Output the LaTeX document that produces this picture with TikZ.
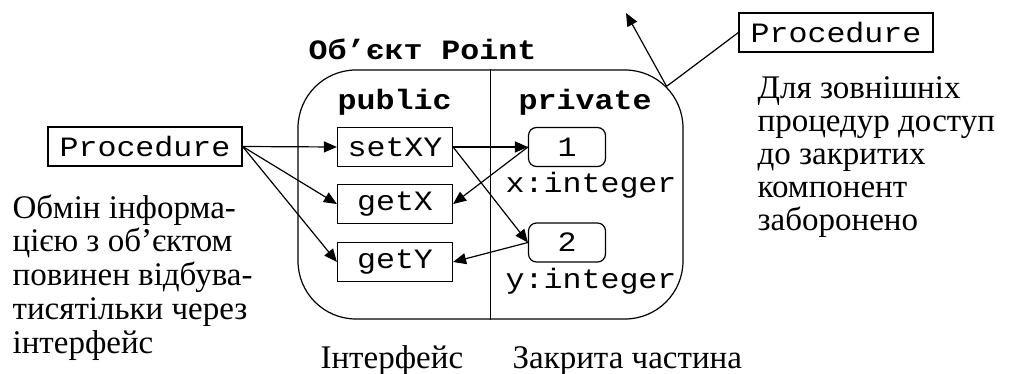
\documentclass[tikz,border=0pt]{standalone}
\usepackage{fontspec}
\setmainfont{Liberation Serif}
\newfontfamily\monof[FakeStretch=1.13]{Liberation Mono}
\newfontfamily\textf{Liberation Serif}
\usetikzlibrary{arrows.meta,calc}
\begin{document}
\begin{tikzpicture}[x=1pt,y=-1pt,line width=1.2pt,
  mono/.style={font=\monof\fontsize{28}{30}\selectfont},
  monob/.style={font=\monof\bfseries\fontsize{28}{30}\selectfont},
  serif/.style={font=\textf\fontsize{33}{34}\selectfont},
  procbox/.style={draw,mono,inner sep=0pt,minimum width=194pt,minimum height=39pt},
  methbox/.style={draw,mono,inner sep=0pt,minimum width=115pt,minimum height=39pt},
  fieldbox/.style={draw,mono,inner sep=0pt,rounded corners=8pt,minimum width=77pt,minimum height=39pt},
  arr/.style={-{Triangle[length=13pt,width=11pt]}},
  lbl/.style={anchor=base west,inner sep=0pt}]
\useasboundingbox (0,0) rectangle (1032,374);

% object body with public / private halves
\node[draw,rounded corners=58pt,minimum width=385pt,minimum height=249pt,inner sep=0pt]
  (obj) at (490.5,194.5) {};
\draw (obj.north) -- (obj.south);
\node[lbl,monob] (title) at (308,60) {Об’єкт Point};
\node[lbl,monob] (pub) at (337,110) {public};
\node[lbl,monob] (priv) at (518,110) {private};

% interface methods
\node[methbox] (setxy) at (395,147) {setXY};
\node[methbox] (getx) at (395,204) {getX};
\node[methbox] (gety) at (395,262) {getY};

% private fields
\node[fieldbox] (one) at (567,147) {1};
\node[fieldbox] (two) at (567,242.5) {2};
\node[lbl,mono] (xint) at (505,192) {x:integer};
\node[lbl,mono] (yint) at (505,288) {y:integer};

% outside procedures
\node[procbox] (procl) at (145,146.5) {Procedure};
\node[procbox] (procr) at (836,32.5) {Procedure};

% access through the interface
\draw[arr] (procl.east) -- (setxy.west);
\draw[arr] (procl.east) -- (getx.west);
\draw[arr] (procl.east) -- (gety.west);
\draw[arr] (setxy.east) -- (one.west);
\draw[arr] (setxy.east) -- (two.west);
\draw[arr] (one.west) -- (getx.east);
\draw[arr] (two.west) -- (gety.east);

% blocked access to the private part
\coordinate (hit) at ($(obj.north east)+(-58+41.01,58-41.01)$);
\coordinate (away) at (626,13);
\draw (procr.west) -- (hit);
\draw[arr] (hit) -- (away);

% captions
\node[lbl,serif] (lnote) at (12,218) {\vtop{\baselineskip=33.8pt
  \hbox{Обмін інформа-}\hbox{цією з об’єктом}\hbox{повинен відбува-}\hbox{тисятільки через}\hbox{інтерфейс}}};
\node[lbl,serif] (rnote) at (757,99) {\vtop{\baselineskip=33pt
  \hbox{Для зовнішніх}\hbox{процедур доступ}\hbox{до закритих}\hbox{компонент}\hbox{заборонено}}};
\node[lbl,serif] (cint) at (320,368) {Інтерфейс};
\node[lbl,serif] (cpriv) at (512,368) {Закрита частина};
\end{tikzpicture}
\end{document}
